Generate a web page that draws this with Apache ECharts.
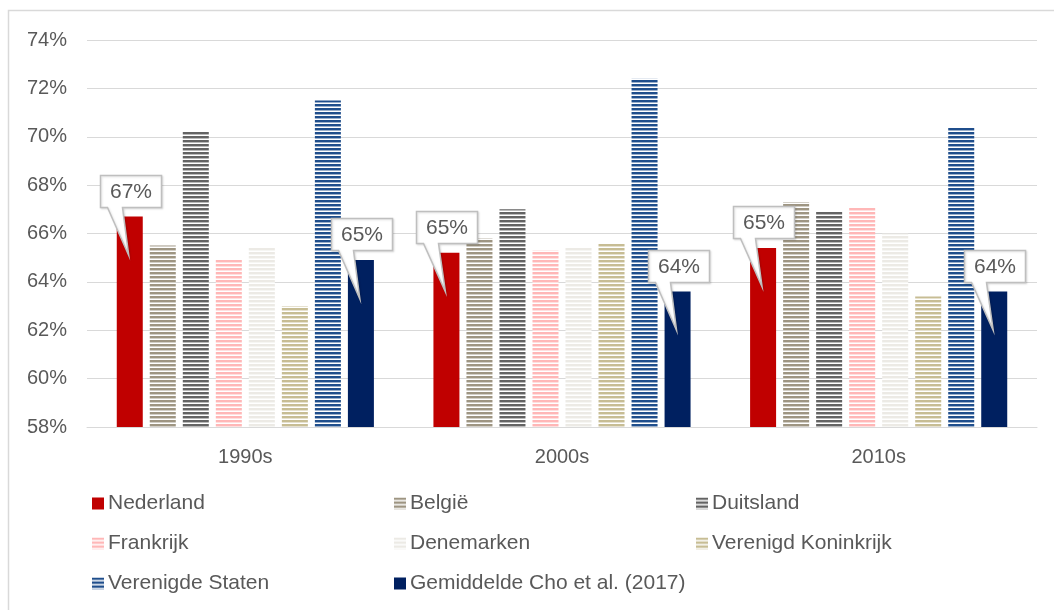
<!DOCTYPE html>
<html>
<head>
<meta charset="utf-8">
<script src="https://cdn.jsdelivr.net/npm/echarts@6/dist/echarts.min.js"></script>
<style>
  html, body { margin: 0; padding: 0; background: #fff; }
  #chart { width: 1054px; height: 610px; }
</style>
</head>
<body>
<div id="chart"></div>
<script>
// decennia op de x-as
const decades = ['1990s', '2000s', '2010s']
const countries = ['Nederland', 'België', 'Duitsland', 'Frankrijk', 'Denemarken', 'Verenigd Koninkrijk', 'Verenigde Staten', 'Gemiddelde Cho et al. (2017)']
// waarden in procenten, per land
const nederland = [66.7, 65.2, 65.4]
const belgie = [65.5, 65.8, 67.3]
const duitsland = [70.2, 67.0, 66.9]
const frankrijk = [64.9, 65.3, 67.1]
const denemarken = [65.4, 65.4, 66.0]
const verenigdKoninkrijk = [63.0, 65.6, 63.4]
const verenigdeStaten = [71.5, 72.4, 70.4]
const gemiddelde = [64.9, 63.6, 63.6]
const yTicks = [58, 60, 62, 64, 66, 68, 70, 72, 74]

const values = [nederland, belgie, duitsland, frankrijk, denemarken, verenigdKoninkrijk, verenigdeStaten, gemiddelde]
const colorList = ['#C00000', '#9E9582', '#636363', '#FFB7B7', '#ECEAE5', '#C7BD94', '#1F4E8C', '#002060']
const striped = [false, true, true, true, true, true, true, false]
// alleen deze series krijgen een label-ballon
const calloutSeries = [0, 7]

const textColor = '#595959'
const fontFamily = '"Liberation Sans", Arial, sans-serif'

function stripes(color) {
  const c = document.createElement('canvas')
  c.width = 4
  c.height = 4
  const ctx = c.getContext('2d')
  ctx.fillStyle = '#fff'
  ctx.fillRect(0, 0, 4, 4)
  ctx.fillStyle = color
  ctx.fillRect(0, 0, 4, 2)
  ctx.globalAlpha = 0.45
  ctx.fillRect(0, 2, 4, 1)
  return { image: c, repeat: 'repeat' }
}

const chart = echarts.init(document.getElementById('chart'))

const series = countries.map((name, i) => ({
  name: name,
  type: 'bar',
  data: values[i],
  barWidth: 26,
  barGap: '27%',
  itemStyle: {
    color: striped[i] ? stripes(colorList[i]) : colorList[i],
  },
}))

function legendCol(names, left) {
  return {
    orient: 'vertical',
    left: left,
    top: 493,
    padding: 0,
    data: names,
    icon: 'rect',
    itemWidth: 12,
    itemHeight: 12,
    itemGap: 19,
    selectedMode: false,
    textStyle: {
      color: textColor,
      fontSize: 21,
      lineHeight: 21,
      fontFamily: fontFamily,
      padding: [0, 0, 0, -1],
    },
  }
}

const options = {
  animation: false,
  backgroundColor: '#fff',
  grid: {
    left: 87,
    right: 17,
    top: 40,
    bottom: 183,
  },
  legend: [
    legendCol([countries[0], countries[3], countries[6]], 92),
    legendCol([countries[1], countries[4], countries[7]], 394),
    legendCol([countries[2], countries[5]], 696),
  ],
  xAxis: {
    type: 'category',
    data: decades,
    axisTick: { show: false },
    axisLine: { lineStyle: { color: '#D9D9D9', width: 1 } },
    axisLabel: {
      color: textColor,
      fontSize: 20,
      fontFamily: fontFamily,
      margin: 20,
    },
  },
  yAxis: {
    type: 'value',
    min: yTicks[0],
    max: yTicks[yTicks.length - 1],
    interval: 2,
    axisLine: { show: false },
    axisTick: { show: false },
    splitLine: { lineStyle: { color: '#D9D9D9', width: 1 } },
    axisLabel: {
      color: textColor,
      fontSize: 20,
      fontFamily: fontFamily,
      margin: 20,
      formatter: (v) => v + '%',
    },
  },
  series: series,
}

chart.setOption(options)

// ballonnen boven Nederland en het gemiddelde, gepositioneerd vanuit de bar-layout
function drawCallouts() {
  const els = [
    {
      type: 'rect',
      shape: { x: 8.5, y: 10.5, width: 1200, height: 800 },
      style: { fill: 'none', stroke: '#D9D9D9', lineWidth: 1.5 },
      silent: true,
      z: 0,
    },
  ]
  calloutSeries.forEach((si) => {
    const data = chart.getModel().getSeriesByIndex(si).getData()
    values[si].forEach((v, j) => {
      const l = data.getItemLayout(j)
      const L = l.x
      const T = Math.min(l.y, l.y + l.height)
      const W = l.width
      const bx = Math.round(L - 17) + 0.5
      const by = Math.round(T - 42) + 0.5
      const bw = 61
      const bh = 32
      els.push({
        type: 'polygon',
        shape: {
          points: [
            [bx, by],
            [bx + bw, by],
            [bx + bw, by + bh],
            [bx + 22, by + bh],
            [L + W / 2 - 1, T + 39],
            [bx + 7, by + bh],
            [bx, by + bh],
          ],
        },
        style: {
          fill: '#fff',
          stroke: '#BFBFBF',
          lineWidth: 1.5,
          shadowBlur: 2,
          shadowColor: 'rgba(0,0,0,0.12)',
          shadowOffsetX: 1,
          shadowOffsetY: 1,
        },
        z: 100,
      })
      els.push({
        type: 'text',
        x: bx + bw / 2,
        y: by + bh / 2 + 1,
        style: {
          text: Math.round(v) + '%',
          fill: textColor,
          fontSize: 21,
          fontFamily: fontFamily,
          align: 'center',
          verticalAlign: 'middle',
        },
        z: 101,
      })
    })
  })
  chart.setOption({ graphic: els })
}

drawCallouts()
</script>
</body>
</html>
